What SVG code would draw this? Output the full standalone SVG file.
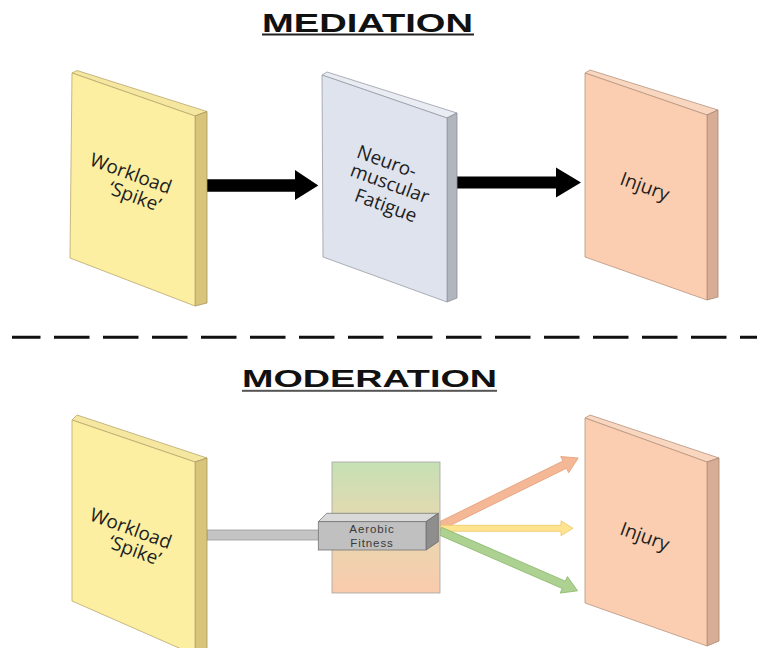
<svg xmlns="http://www.w3.org/2000/svg" width="759" height="648" viewBox="0 0 759 648">
<style>
.lbl{font-family:"Open Sans","Liberation Sans",Arial,sans-serif;font-size:19px;fill:#1e1e1e;text-anchor:middle}
.ttl{font-family:"Liberation Sans",Arial,sans-serif;font-size:25px;font-weight:bold;fill:#111}
.yf{fill:#fcefa2;stroke:#b9a76c;stroke-width:0.8}
.yt{fill:#f5e7a0;stroke:#b9a76c;stroke-width:0.8}
.ys{fill:#d9c47c;stroke:#a8955c;stroke-width:0.8}
.bf{fill:#dee3ee;stroke:#989ca6;stroke-width:0.8}
.bt{fill:#e9ecf2;stroke:#989ca6;stroke-width:0.8}
.bs{fill:#b1b5bd;stroke:#8a8e96;stroke-width:0.8}
.of{fill:#fbceb1;stroke:#b8947e;stroke-width:0.8}
.ot{fill:#f8d6bf;stroke:#b8947e;stroke-width:0.8}
.os{fill:#d7ae95;stroke:#a88670;stroke-width:0.8}
.small{font-family:"Liberation Sans",Arial,sans-serif;font-size:11.5px;fill:#3a3a3a;text-anchor:middle;letter-spacing:0.9px}
</style>
<defs>
<linearGradient id="mod" x1="0" y1="0" x2="0" y2="1">
<stop offset="0" stop-color="#c6e0b5"/>
<stop offset="0.45" stop-color="#e6d9b0"/>
<stop offset="1" stop-color="#f9cbad"/>
</linearGradient>
</defs>
<rect width="759" height="648" fill="#ffffff"/>

<g id="titles">
<text class="ttl" x="262" y="31.7" textLength="211" lengthAdjust="spacingAndGlyphs">MEDIATION</text>
<rect x="262" y="33.5" width="212" height="2" fill="#222"/>
<text class="ttl" x="242" y="386.7" textLength="255" lengthAdjust="spacingAndGlyphs" style="font-size:24px">MODERATION</text>
<rect x="242" y="389.8" width="255" height="2" fill="#555"/>
</g>

<g id="divider">
<line x1="12" y1="337.3" x2="757" y2="337.3" stroke="#111" stroke-width="3" stroke-dasharray="35.5 13.5" stroke-dashoffset="7"/>
</g>

<g id="connectors">
<polygon points="207,179.3 295,179.3 295,170 318.3,185.5 295,200 295,191.7 207,191.7" fill="#000"/>
<polygon points="457,176.5 556,176.5 556,167.5 581,182.5 556,197.5 556,188.5 457,188.5" fill="#000"/>
<rect x="207" y="530" width="112" height="10" fill="#c4c4c4" stroke="#9c9c9c" stroke-width="0.8"/>
<polygon transform="translate(440,526) rotate(-26.2)" points="0,-4 139,-4 139,-9 154,0 139,9 139,4 0,4" fill="#f5b896" stroke="#e5a27c" stroke-width="0.8"/>
<polygon transform="translate(440,528.3)" points="0,-3 121,-3 121,-7.5 133,0 121,7.5 121,3 0,3" fill="#ffe38f" stroke="#ecc86a" stroke-width="0.8"/>
<polygon transform="translate(440,531) rotate(23.5)" points="0,-4 135,-4 135,-9 150,0 135,9 135,4 0,4" fill="#acd191" stroke="#8fbb72" stroke-width="0.8"/>
</g>

<g id="workload-top">
<polygon class="yt" points="72,73 77,70.5 207,111.5 195,116"/>
<polygon class="ys" points="195,116 207,111.5 207,303 195,306"/>
<polygon class="yf" points="72,73 195,116 195,306 70,258"/>
<text class="lbl" transform="translate(131,173) rotate(20)" y="7">Workload</text>
<text class="lbl" transform="translate(135,196) rotate(20)" y="7">‘Spike’</text>
</g>

<g id="fatigue">
<polygon class="bt" points="322,75 327,72 457,113 447,118"/>
<polygon class="bs" points="447,118 457,113 457,298 447,302"/>
<polygon class="bf" points="322,75 447,118 447,302 323,257"/>
<text class="lbl" transform="translate(387,161) rotate(20)" y="7">Neuro-</text>
<text class="lbl" transform="translate(390,183) rotate(20)" y="7">muscular</text>
<text class="lbl" transform="translate(386,205) rotate(20)" y="7">Fatigue</text>
</g>

<g id="injury-top">
<polygon class="ot" points="585,73 590,70 718,110 707,115"/>
<polygon class="os" points="707,115 718,110 718,297 707,300"/>
<polygon class="of" points="585,73 707,115 707,300 585,257"/>
<text class="lbl" transform="translate(645,186) rotate(20)" y="7">Injury</text>
</g>

<g id="workload-bottom">
<polygon class="yt" points="72,420 77,415 207,458 195,462"/>
<polygon class="ys" points="195,462 207,458 207,652 195,655"/>
<polygon class="yf" points="72,420 195,462 195,655 72,601"/>
<text class="lbl" transform="translate(131,528) rotate(20)" y="7">Workload</text>
<text class="lbl" transform="translate(135,550) rotate(20)" y="7">‘Spike’</text>
</g>

<g id="aerobic-fitness">
<rect x="332" y="462" width="108" height="131" fill="url(#mod)" stroke="#a4a4a4" stroke-width="0.8"/>
<polygon points="318.3,521.7 326.7,513.3 438.3,513.3 426,521.7" fill="#d9d9d9" stroke="#7a7a7a" stroke-width="0.8"/>
<polygon points="426,521.7 438.3,513.3 438.3,541.7 426,550" fill="#8e8e8e" stroke="#6a6a6a" stroke-width="0.8"/>
<rect x="318.3" y="521.7" width="107.7" height="28.3" fill="#c0c0c0" stroke="#747474" stroke-width="0.8"/>
<text class="small" x="372" y="533">Aerobic</text>
<text class="small" x="372" y="547">Fitness</text>
</g>

<g id="injury-bottom">
<polygon class="ot" points="585,418 590,415 719,458 707,462"/>
<polygon class="os" points="707,462 719,458 719,641 707,646"/>
<polygon class="of" points="585,418 707,462 707,646 585,603"/>
<text class="lbl" transform="translate(645,536) rotate(20)" y="7">Injury</text>
</g>
</svg>
